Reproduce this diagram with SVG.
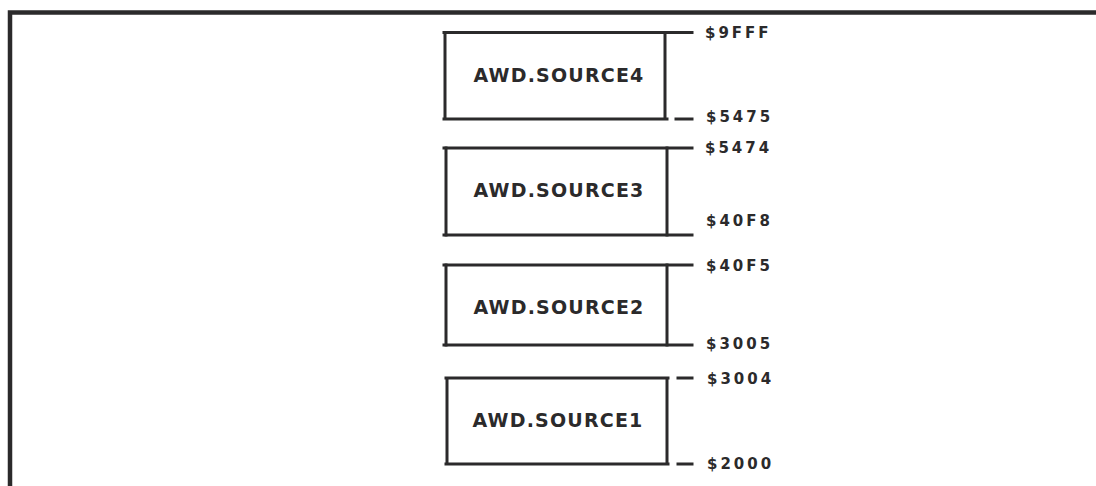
<svg xmlns="http://www.w3.org/2000/svg" width="1096" height="486" viewBox="0 0 1096 486">
<style>
.ln{stroke:#2b2a2b;stroke-width:3;fill:none;stroke-linecap:square}
.fr{stroke:#2b2a2b;stroke-width:4.5;fill:none}
.nm{font-family:"DejaVu Sans",sans-serif;font-weight:bold;font-size:19px;letter-spacing:1.2px;fill:#2b2a2b;text-anchor:middle;dominant-baseline:central}
.ad{font-family:"DejaVu Sans",sans-serif;font-weight:bold;font-size:15px;letter-spacing:3px;fill:#2b2a2b;dominant-baseline:central}
</style>
<rect width="1096" height="486" fill="#ffffff"/>
<path class="fr" d="M10 486 V12.5 H1096"/>
<g id="source4">
<path class="ln" d="M445 33 V119 M665 33 V119 M444 119 H667"/>
<text class="nm" x="559" y="75">AWD.SOURCE4</text>
</g>
<g id="source3">
<path class="ln" d="M446 148 V235 M667 148 V235"/>
<text class="nm" x="559" y="190">AWD.SOURCE3</text>
</g>
<g id="source2">
<path class="ln" d="M446 265 V345 M667 265 V345"/>
<text class="nm" x="559" y="307">AWD.SOURCE2</text>
</g>
<g id="source1">
<path class="ln" d="M447 378 V464 M667 378 V464 M446 378 H668 M446 464 H668"/>
<text class="nm" x="558" y="420">AWD.SOURCE1</text>
</g>
<g id="connectors">
<path class="ln" d="M444 32.5 H692"/>
<path class="ln" d="M676 119 H692"/>
<path class="ln" d="M444 148 H692 M444 235 H692"/>
<path class="ln" d="M444 265 H692 M444 345 H692"/>
<path class="ln" d="M678 378 H692 M678 464 H692"/>
</g>
<g id="addresses">
<text class="ad" x="705" y="33">$9FFF</text>
<text class="ad" x="706" y="117">$5475</text>
<text class="ad" x="705" y="148">$5474</text>
<text class="ad" x="706" y="221">$40F8</text>
<text class="ad" x="706" y="266">$40F5</text>
<text class="ad" x="706" y="344">$3005</text>
<text class="ad" x="707" y="379">$3004</text>
<text class="ad" x="707" y="464">$2000</text>
</g>
</svg>
